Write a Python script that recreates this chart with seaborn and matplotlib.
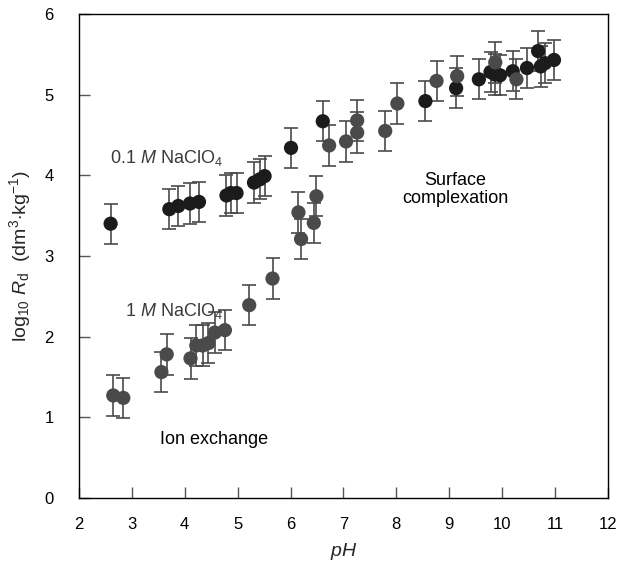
import numpy as np
import pandas as pd
import matplotlib
matplotlib.use("Agg")
import matplotlib.pyplot as plt
import seaborn as sns

# Sorption of the radionuclide versus pH at two ionic strengths
ph_low_ionic = [2.60, 3.71, 3.88, 4.10, 4.27, 4.79, 4.87, 4.98, 5.31, 5.42, 5.51,
                6.01, 6.61, 8.55, 9.13, 9.56, 9.78, 9.86, 9.96, 10.20, 10.47,
                10.68, 10.73, 10.81, 10.98]
logrd_low_ionic = [3.40, 3.58, 3.62, 3.65, 3.67, 3.75, 3.78, 3.78, 3.91, 3.95, 3.99,
                   4.34, 4.67, 4.92, 5.08, 5.19, 5.28, 5.25, 5.24, 5.29, 5.33,
                   5.54, 5.35, 5.39, 5.43]

ph_high_ionic = [2.65, 2.84, 3.56, 3.66, 4.11, 4.22, 4.34, 4.45, 4.57, 4.76, 5.22,
                 5.66, 6.15, 6.20, 6.44, 6.49, 6.73, 7.05, 7.26, 7.26, 7.79, 8.02,
                 8.76, 9.15, 9.87, 10.27]
logrd_high_ionic = [1.27, 1.24, 1.56, 1.78, 1.73, 1.89, 1.89, 1.92, 2.05, 2.08, 2.39,
                    2.72, 3.54, 3.21, 3.41, 3.74, 4.37, 4.42, 4.68, 4.53, 4.55, 4.89,
                    5.17, 5.23, 5.40, 5.19]

logrd_err = 0.25

x_ticks = [2, 3, 4, 5, 6, 7, 8, 9, 10, 11, 12]
y_ticks = [0, 1, 2, 3, 4, 5, 6]

sns.set_style("white")
plt.rcParams["font.family"] = ["Liberation Sans", "DejaVu Sans"]
plt.rcParams["mathtext.fontset"] = "custom"
plt.rcParams["mathtext.rm"] = "Liberation Sans"
plt.rcParams["mathtext.it"] = "Liberation Sans:italic"

df = pd.concat([
    pd.DataFrame({"pH": ph_low_ionic, "logRd": logrd_low_ionic, "medium": "0.1 M"}),
    pd.DataFrame({"pH": ph_high_ionic, "logRd": logrd_high_ionic, "medium": "1 M"}),
], ignore_index=True)

colors = {"0.1 M": "#1b1b1b", "1 M": "#4a4a4a"}

fig = plt.figure(figsize=(6.21, 5.71), dpi=100)
ax = fig.add_axes([0.127, 0.128, 0.852, 0.8475])

for medium in ["0.1 M", "1 M"]:
    sub = df[df["medium"] == medium]
    eb = ax.errorbar(sub["pH"], sub["logRd"], yerr=logrd_err, fmt="none",
                     ecolor="#4a4a4a", elinewidth=1.2, capsize=5, capthick=1.2,
                     zorder=2)
    for cap in eb[1]:
        cap.set_color("black")

sns.scatterplot(data=df, x="pH", y="logRd", hue="medium", palette=colors,
                s=105, edgecolor="none", legend=False, ax=ax, zorder=3)

ax.set_xlim(2, 12)
ax.set_ylim(0, 6)
ax.set_xticks(x_ticks)
ax.set_yticks(y_ticks)
ax.tick_params(axis="both", which="major", bottom=True, left=True, top=False,
               right=False, direction="in", length=8, width=1,
               color="#555555", labelsize=12, labelcolor="black")
ax.tick_params(axis="x", pad=14)
ax.tick_params(axis="y", pad=18)
for side in ["left", "bottom", "right", "top"]:
    ax.spines[side].set_visible(True)
    ax.spines[side].set_color("black")
    ax.spines[side].set_linewidth(1.0)

ax.set_xlabel("$pH$", fontsize=14, labelpad=6)
ax.set_ylabel("log$_{10}$ $R_\\mathrm{d}$  (dm$^3$$\\cdot$kg$^{-1}$)",
              fontsize=14, labelpad=8)

ax.text(2.59, 4.21, "0.1 $M$ NaClO$_4$", fontsize=13, color="#3a3a3a",
        ha="left", va="center")
ax.text(2.87, 2.32, "1 $M$ NaClO$_4$", fontsize=13, color="#3a3a3a",
        ha="left", va="center")
ax.text(3.53, 0.72, "Ion exchange", fontsize=13, color="black",
        ha="left", va="center")
ax.text(9.11, 3.82, "Surface\ncomplexation", fontsize=13, color="black",
        ha="center", va="center", linespacing=1.1)

fig.savefig("out.png", dpi=100)
